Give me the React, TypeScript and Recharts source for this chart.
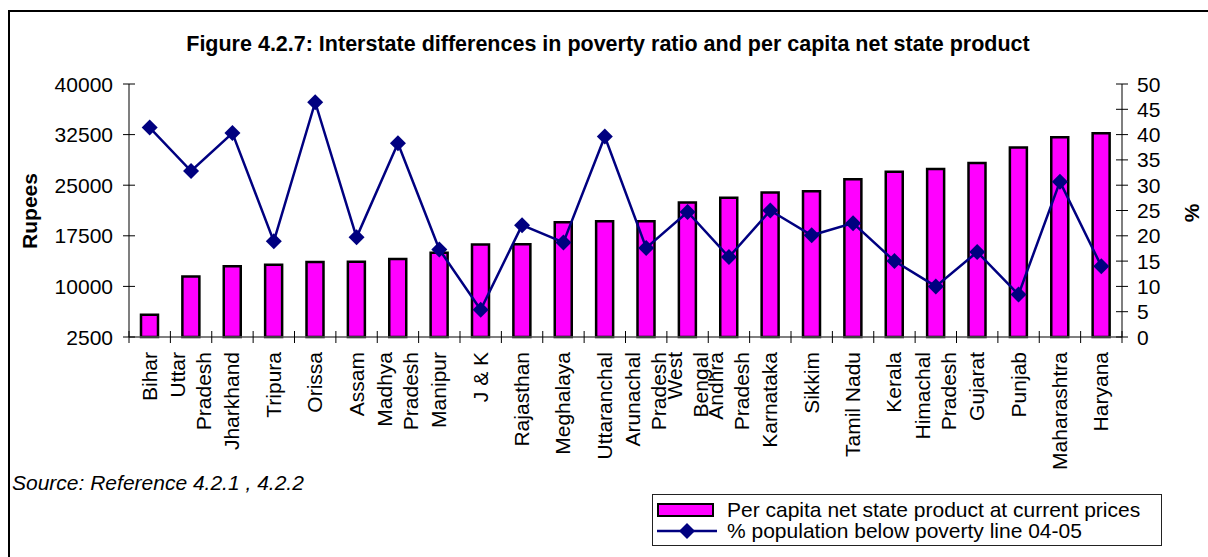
import { ComposedChart, Bar, Line, XAxis, YAxis } from 'recharts'

const states = [
  'Bihar', 'Uttar\nPradesh', 'Jharkhand', 'Tripura', 'Orissa', 'Assam', 'Madhya\nPradesh',
  'Manipur', 'J & K', 'Rajasthan', 'Meghalaya', 'Uttaranchal', 'Arunachal\nPradesh',
  'West\nBengal', 'Andhra\nPradesh', 'Karnataka', 'Sikkim', 'Tamil Nadu', 'Kerala',
  'Himachal\nPradesh', 'Gujarat', 'Punjab', 'Maharashtra', 'Haryana',
]

// per capita net state product at current prices (Rs)
const perCapita = [
  5800, 11450, 13000, 13200, 13600, 13650, 14050, 15000, 16200, 16250, 19500, 19650,
  19650, 22450, 23150, 23900, 24100, 25900, 27000, 27400, 28300, 30600, 32100, 32700,
]

// % population below poverty line 04-05
const poverty = [
  41.4, 32.8, 40.3, 18.9, 46.4, 19.7, 38.3, 17.3, 5.4, 22.1, 18.7, 39.6,
  17.6, 24.7, 15.8, 25.0, 20.1, 22.5, 15.0, 10.0, 16.8, 8.4, 30.7, 14.0,
]

const rupeeTicks = [2500, 10000, 17500, 25000, 32500, 40000]
const pctTicks = [0, 5, 10, 15, 20, 25, 30, 35, 40, 45, 50]

const data = states.map((s, i) => ({ state: s, npc: perCapita[i], pov: poverty[i] }))

const FONT = '"Liberation Sans", Arial, sans-serif'
const MAGENTA = '#FF00FF'
const NAVY = '#000080'

const LeftTick = ({ x, y, payload }: any) => (
  <g>
    <line x1={x - 6} x2={x + 6} y1={y} y2={y} stroke="#000" strokeWidth={1} />
    <text x={x - 16} y={y} dy="0.36em" textAnchor="end" fontSize={21} fontFamily={FONT} fill="#000">
      {payload.value}
    </text>
  </g>
)

const RightTick = ({ x, y, payload }: any) => (
  <g>
    <line x1={x - 6} x2={x + 6} y1={y} y2={y} stroke="#000" strokeWidth={1} />
    <text x={x + 15} y={y} dy="0.36em" textAnchor="start" fontSize={21} fontFamily={FONT} fill="#000">
      {payload.value}
    </text>
  </g>
)

const StateTick = ({ x, y, payload, index }: any) => {
  const half = payload.offset || 20.7
  const lines = String(payload.value).split('\n')
  const lh = 26
  return (
    <g>
      <line x1={x - half} x2={x - half} y1={y - 6} y2={y + 6} stroke="#000" />
      {index === states.length - 1 && (
        <line x1={x + half} x2={x + half} y1={y - 6} y2={y + 6} stroke="#000" />
      )}
      <g transform={`translate(${x},${y}) rotate(-90)`}>
        {lines.map((l, i) => (
          <text
            key={i}
            x={-15}
            y={(i - (lines.length - 1) / 2) * lh + 7}
            textAnchor="end"
            fontSize={21}
            fontFamily={FONT}
            fill="#000"
          >
            {l}
          </text>
        ))}
      </g>
    </g>
  )
}

const Diamond = ({ cx, cy }: any) => {
  if (cx == null || cy == null) return null
  const r = 8
  return <polygon points={`${cx},${cy - r} ${cx + r},${cy} ${cx},${cy + r} ${cx - r},${cy}`} fill={NAVY} />
}

const LegendBox = () => (
  <div
    style={{
      position: 'absolute',
      left: 652,
      top: 494,
      border: '1.5px solid #222',
      width: 510,
      height: 52,
      boxSizing: 'border-box',
      fontFamily: FONT,
      fontSize: 21,
      color: '#000',
      padding: '4px 0 0 4px',
      lineHeight: '21px',
      background: '#fff',
    }}
  >
    <div style={{ display: 'flex', alignItems: 'center' }}>
      <span style={{ display: 'inline-block', width: 57, height: 14, background: MAGENTA, border: '2px solid #000', boxSizing: 'border-box', marginRight: 13 }} />
      Per capita net state product at current prices
    </div>
    <div style={{ display: 'flex', alignItems: 'center' }}>
      <svg width={60} height={18} style={{ marginRight: 10 }}>
        <line x1={0} x2={60} y1={9} y2={9} stroke={NAVY} strokeWidth={2.5} />
        <polygon points="30,1 38,9 30,17 22,9" fill={NAVY} />
      </svg>
      % population below poverty line 04-05
    </div>
  </div>
)

export default function App() {
  return (
    <div style={{ position: 'absolute', left: 0, top: 0, width: 1208, height: 557, background: '#fff' }}>
      <div
        style={{
          position: 'absolute',
          left: 8,
          top: 10,
          width: 1200,
          height: 547,
          borderTop: '2px solid #000',
          borderLeft: '2px solid #000',
          boxSizing: 'border-box',
        }}
      />
      <ComposedChart
        width={1208}
        height={557}
        data={data}
        margin={{ top: 84, right: 6, bottom: 70, left: 49 }}
        barCategoryGap={0}
        style={{ position: 'absolute', left: 0, top: 0 }}
      >
        <text x={608} y={51} textAnchor="middle" fontFamily={FONT} fontSize={21.5} fontWeight="bold" fill="#000">
          Figure 4.2.7: Interstate differences in poverty ratio and per capita net state product
        </text>
        <text x={12} y={490} fontFamily={FONT} fontSize={21} fontStyle="italic" fill="#000">
          Source: Reference 4.2.1 , 4.2.2
        </text>
        <XAxis
          dataKey="state"
          height={150}
          interval={0}
          tickSize={0}
          tickMargin={0}
          tickLine={false}
          axisLine={{ stroke: '#555', strokeWidth: 1.5 }}
          tick={<StateTick />}
        />
        <YAxis
          yAxisId="rs"
          orientation="left"
          width={80}
          domain={[2500, 40000]}
          ticks={rupeeTicks}
          interval={0}
          tickSize={0}
          tickMargin={0}
          tickLine={false}
          axisLine={{ stroke: '#555', strokeWidth: 1.5 }}
          tick={<LeftTick />}
          label={{
            content: () => (
              <text
                transform="translate(37,211) rotate(-90)"
                textAnchor="middle"
                fontFamily={FONT}
                fontSize={21}
                fontWeight="bold"
                fill="#000"
              >
                Rupees
              </text>
            ),
          }}
        />
        <YAxis
          yAxisId="pct"
          orientation="right"
          width={80}
          domain={[0, 50]}
          ticks={pctTicks}
          interval={0}
          tickSize={0}
          tickMargin={0}
          tickLine={false}
          axisLine={{ stroke: '#555', strokeWidth: 1.5 }}
          tick={<RightTick />}
          label={{
            content: () => (
              <text
                transform="translate(1199,213) rotate(-90)"
                textAnchor="middle"
                fontFamily={FONT}
                fontSize={21}
                fontWeight="bold"
                fill="#000"
              >
                %
              </text>
            ),
          }}
        />
        <Bar
          yAxisId="rs"
          dataKey="npc"
          name="Per capita net state product at current prices"
          fill={MAGENTA}
          stroke="#000"
          strokeWidth={2.5}
          barSize={17}
          isAnimationActive={false}
        />
        <Line
          yAxisId="pct"
          dataKey="pov"
          name="% population below poverty line 04-05"
          stroke={NAVY}
          strokeWidth={2.5}
          dot={<Diamond />}
          activeDot={false}
          isAnimationActive={false}
        />
      </ComposedChart>
      <LegendBox />
    </div>
  )
}
